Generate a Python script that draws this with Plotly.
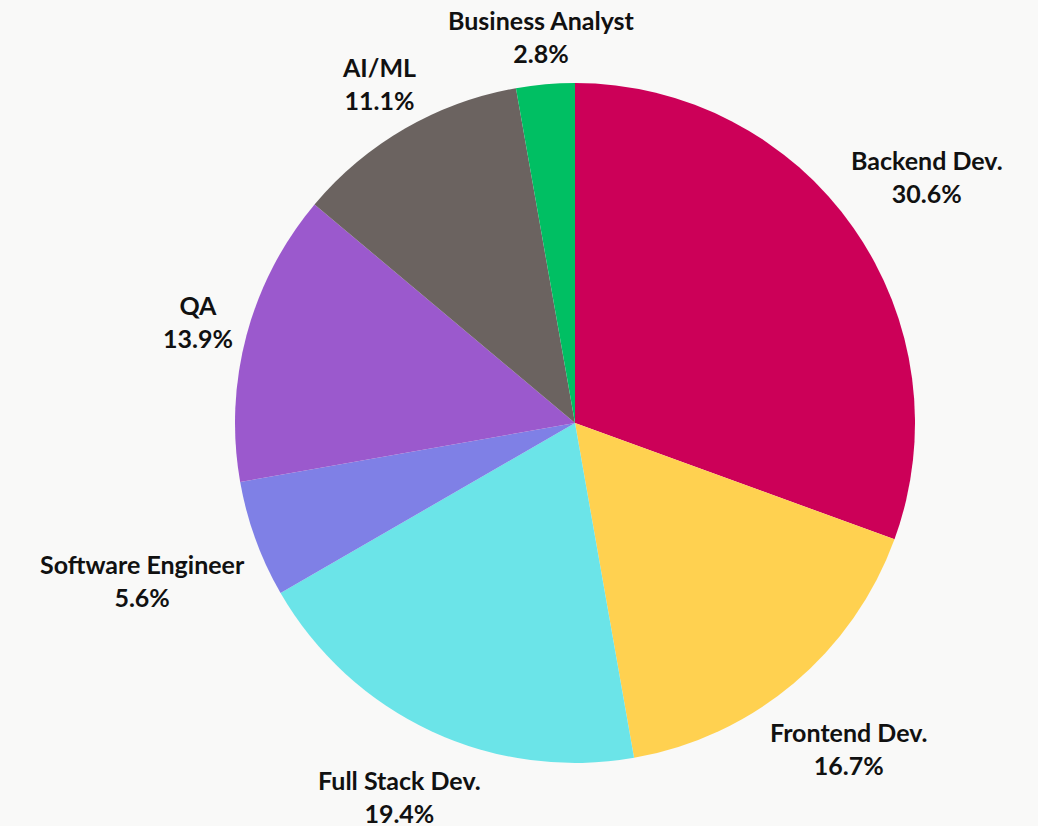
import math
import plotly.graph_objects as go

labels = ["Backend Dev.", "Frontend Dev.", "Full Stack Dev.", "Software Engineer", "QA", "AI/ML", "Business Analyst"]
values = [11, 6, 7, 2, 5, 4, 1]
colors = ["#CC0058", "#FFD150", "#6BE4E8", "#7F80E6", "#9B59CD", "#6B6360", "#00BF63"]

W, H = 1038, 826
cx, cy, r = 575, 423, 340
FONT = "Lato"
FS = 25
BG = "#F9F9F8"

fig = go.Figure(go.Pie(
    labels=labels,
    values=values,
    sort=False,
    direction="clockwise",
    rotation=0,
    marker=dict(colors=colors, line=dict(width=0)),
    textposition="none",
    showlegend=False,
    hoverinfo="label+percent",
    domain=dict(x=[(cx - r) / W, (cx + r) / W], y=[1 - (cy + r) / H, 1 - (cy - r) / H]),
))

# outside labels placed on each slice's mid-angle ray, just beyond the rim,
# kept inside the canvas
total = sum(values)
cum = 0
annotations = []
for lab, v in zip(labels, values):
    mid = (cum + v / 2) / total
    cum += v
    ang = 2 * math.pi * mid
    dx, dy = math.sin(ang), -math.cos(ang)
    pct = f"{100 * v / total:.1f}%"
    hw = 0.5 * max(len(lab), len(pct)) * FS * 0.49
    hh = 26
    d = r + 14 + abs(dx) * hw + abs(dy) * hh
    px = cx + dx * d
    py = cy + dy * d
    py = min(max(py, 36), H - 30)
    annotations.append(dict(
        x=px / W, y=1 - py / H, xref="paper", yref="paper",
        xanchor="center", yanchor="middle", align="center", showarrow=False,
        text=f"<b>{lab}</b><br><b>{pct}</b>",
        font=dict(family=FONT, size=FS, color="#111111", weight=900),
    ))

fig.update_layout(
    width=W, height=H,
    margin=dict(l=0, r=0, t=0, b=0),
    paper_bgcolor=BG,
    plot_bgcolor=BG,
    font=dict(family=FONT),
    annotations=annotations,
)

fig.write_html(
    "out.html",
    config={"displayModeBar": False},
    post_script="document.body.style.margin='0';document.body.style.background='#F9F9F8';",
)
